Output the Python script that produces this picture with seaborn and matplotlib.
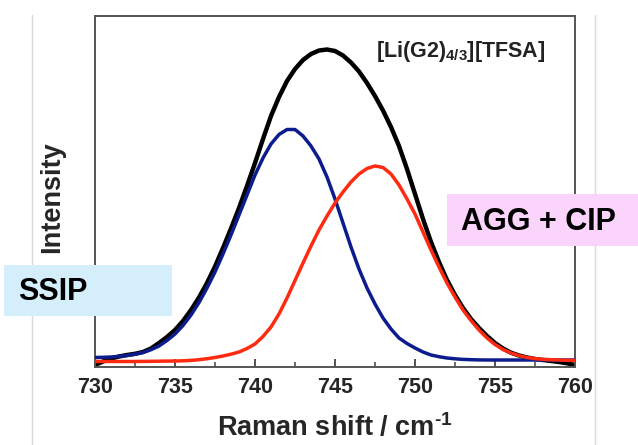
import numpy as np
import pandas as pd
import matplotlib
matplotlib.use("Agg")
import matplotlib.pyplot as plt
from matplotlib.patches import Rectangle
from matplotlib.lines import Line2D
import seaborn as sns

# ---- data (intensity in arbitrary units) ----
raman_shift = np.arange(730, 760.01, 0.5)   # cm-1, 0.5 step

total_y = [-5, -1.5, 1.5, 3.5, 5, 6.2, 8, 11.5, 17, 23, 30, 39, 50, 62.5, 77, 93.5,
           112, 131.5, 152, 174, 197, 221, 244, 263, 279, 291, 300, 306, 309.5, 310.5,
           309, 304.5, 297.5, 288.5, 277, 264, 249.5, 233, 214, 191, 166, 141, 118, 98,
           80, 65, 52, 41, 32, 24, 17, 11.5, 7.3, 4.5, 2.5, 1, 0, -1, -2, -3.3, -5]

ssip_y = [2.5, 2.7, 3, 3.6, 4.5, 5.8, 7.5, 10.3, 14, 19.5, 26, 34.5, 45, 57.5, 72, 88,
          106, 125, 145, 165, 185, 202, 216, 225.5, 230.5, 230.5, 224, 214, 201, 183,
          161, 137, 113, 91, 72, 56, 42, 31, 22, 16.5, 12, 8, 5, 3.3, 2, 1.2, 0.6, 0.3,
          0.1, 0, 0, 0, 0, 0, 0, 0, 0, 0, 0, 0, 0]

agg_cip_y = [-1.5, -1.5, -1.5, -1.5, -1.5, -1.5, -1.4, -1.3, -1.2, -1.1, -1, -0.8, -0.4,
             0.3, 1.3, 2.5, 4, 5.8, 8, 11.5, 16, 23.5, 33, 46, 62, 79.5, 97, 114, 130,
             144, 157, 168, 178, 186, 191.5, 194, 192.5, 186, 175, 161, 146, 128, 110, 93,
             77, 63, 50, 39.5, 30, 22, 15.5, 10.5, 7, 4.3, 2.5, 1.4, 0.7, 0.3, 0, -0.3, -0.5]

x_ticks = [730, 735, 740, 745, 750, 755, 760]
sample_label = r"[Li(G2)$_{\mathbf{4/3}}$][TFSA]"
box_labels = ["SSIP", "AGG + CIP"]

# ---- style ----
sns.set_style("white")
plt.rcParams["font.family"] = ["Liberation Sans", "DejaVu Sans"]
plt.rcParams["font.weight"] = "bold"
plt.rcParams["mathtext.fontset"] = "custom"
plt.rcParams["mathtext.rm"] = "Liberation Sans:bold"
plt.rcParams["mathtext.bf"] = "Liberation Sans:bold"
plt.rcParams["mathtext.it"] = "Liberation Sans:bold"
plt.rcParams["lines.solid_joinstyle"] = "round"
plt.rcParams["lines.solid_capstyle"] = "round"

W, H = 638, 445
fig = plt.figure(figsize=(W / 100, H / 100), dpi=100)
fig.patch.set_facecolor("white")

def fx(px):
    return px / W

def fy(py):
    return 1 - py / H

ax_l, ax_r, ax_t, ax_b = 95, 575, 16, 367
ax = fig.add_axes([fx(ax_l), fy(ax_b), (ax_r - ax_l) / W, (ax_b - ax_t) / H])

df = pd.DataFrame({"x": raman_shift, "total": total_y, "ssip": ssip_y, "agg": agg_cip_y})

sns.lineplot(data=df, x="x", y="ssip", color="#0d1c8c", lw=2.5, ax=ax, zorder=3)
sns.lineplot(data=df, x="x", y="agg", color="#ff2a12", lw=2.5, ax=ax, zorder=4)
sns.lineplot(data=df, x="x", y="total", color="#000000", lw=3.2, ax=ax, zorder=2)

ax.set_xlim(730, 760)
ax.set_ylim(-7, 344)
ax.set_xticks(x_ticks)
ax.set_xticklabels([str(t) for t in x_ticks], fontsize=15.5, fontweight="bold")
ax.set_xticks(np.arange(732.5, 760, 5), minor=True)
ax.set_yticks([])
ax.tick_params(axis="x", which="major", direction="in", length=6, width=1.3,
               color="#444444", pad=7, bottom=True, top=False)
ax.tick_params(axis="x", which="minor", direction="in", length=3.5, width=1.1,
               color="#444444", bottom=True, top=False)
for s in ax.spines.values():
    s.set_color("#555555")
    s.set_linewidth(1.4)

ax.set_xlabel("Raman shift / cm$^{\u2010\\mathbf{1}}$", fontsize=19.5, fontweight="bold")
ax.xaxis.label.set_va("center")
ax.xaxis.set_label_coords(0.5, (ax_b - 428) / (ax_b - ax_t))
ax.set_ylabel("Intensity", fontsize=19.5, fontweight="bold")
ax.yaxis.label.set_va("center")
ax.yaxis.set_label_coords((52 - ax_l) / (ax_r - ax_l), (ax_b - 197) / (ax_b - ax_t))

ax.text((376 - ax_l) / (ax_r - ax_l), (ax_b - 57) / (ax_b - ax_t), sample_label,
        transform=ax.transAxes, ha="left", va="baseline", fontsize=15.5, fontweight="bold",
        color="#222222")

# thin grey slide guides
fig.add_artist(Line2D([fx(32), fx(32)], [fy(15), fy(445)], color="#d9d9d9", lw=1, zorder=0.5))
fig.add_artist(Line2D([fx(595), fx(595)], [fy(15), fy(445)], color="#d9d9d9", lw=1, zorder=0.5))

# annotation boxes
fig.add_artist(Rectangle((fx(4), fy(316)), 168 / W, 51 / H, facecolor="#d4eefc",
                         edgecolor="none", zorder=5))
fig.text(fx(18), fy(292), box_labels[0], ha="left", va="center", fontsize=22,
         fontweight="bold", color="black", zorder=6)
fig.add_artist(Rectangle((fx(447), fy(246)), 191 / W, 52 / H, facecolor="#fbd4fb",
                         edgecolor="none", zorder=5))
fig.text(fx(461), fy(222), box_labels[1], ha="left", va="center", fontsize=22,
         fontweight="bold", color="black", zorder=6)

fig.savefig("out.png", dpi=100)
